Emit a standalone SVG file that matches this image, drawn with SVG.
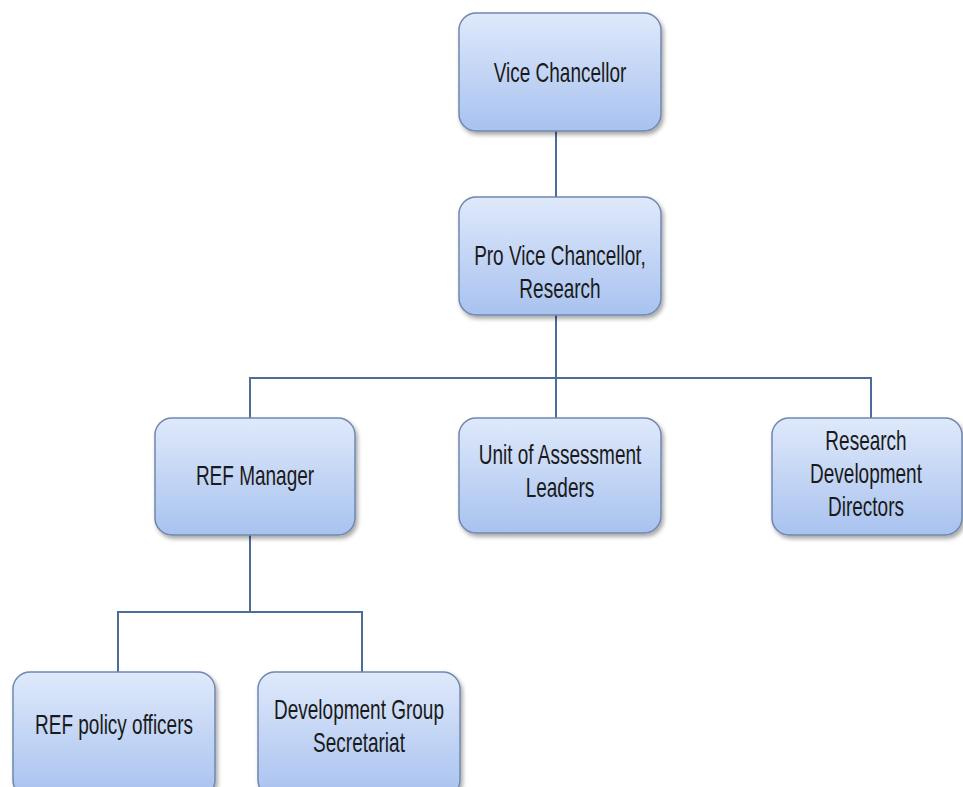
<svg xmlns="http://www.w3.org/2000/svg" width="963" height="787" viewBox="0 0 963 787">
<defs>
<linearGradient id="g" x1="0" y1="0" x2="0" y2="1">
<stop offset="0" stop-color="#dfe9fb"/>
<stop offset="1" stop-color="#a8c2ef"/>
</linearGradient>
<filter id="sh" x="-10%" y="-10%" width="130%" height="130%">
<feDropShadow dx="2" dy="3" stdDeviation="2" flood-color="#000" flood-opacity="0.35"/>
</filter>
<style>
.box{fill:url(#g);stroke:#7088ae;stroke-width:1.5;filter:url(#sh)}
.t{font-family:"Liberation Sans Narrow","Liberation Sans",sans-serif;font-size:19px;fill:#1a1a1a;text-anchor:middle}
.c{fill:none;stroke:#4d6d98;stroke-width:2}
</style>
</defs>
<rect width="963" height="787" fill="#fff"/>
<g id="connectors">
<path class="c" d="M556 131V197"/>
<path class="c" d="M556 315V418"/>
<path class="c" d="M250 418V378H871V418"/>
<path class="c" d="M250 535V612"/>
<path class="c" d="M118 672V612H362V672"/>
</g>
<g id="vc">
<rect class="box" x="459" y="13" width="202" height="118" rx="17"/>
<text class="t" transform="translate(560,82) scale(1,1.45)">Vice Chancellor</text>
</g>
<g id="pvc">
<rect class="box" x="459" y="197" width="202" height="118" rx="17"/>
<text class="t" transform="translate(560,265) scale(1,1.45)">Pro Vice Chancellor,</text>
<text class="t" transform="translate(560,298) scale(1,1.45)">Research</text>
</g>
<g id="refmanager">
<rect class="box" x="155" y="418" width="200" height="117" rx="17"/>
<text class="t" transform="translate(255,485) scale(1,1.45)">REF Manager</text>
</g>
<g id="uoa">
<rect class="box" x="459" y="418" width="202" height="115" rx="17"/>
<text class="t" transform="translate(560,464) scale(1,1.45)">Unit of Assessment</text>
<text class="t" transform="translate(560,497) scale(1,1.45)">Leaders</text>
</g>
<g id="rdd">
<rect class="box" x="772" y="418" width="190" height="117" rx="17"/>
<text class="t" transform="translate(866,450) scale(1,1.45)">Research</text>
<text class="t" transform="translate(866,483) scale(1,1.45)">Development</text>
<text class="t" transform="translate(866,516) scale(1,1.45)">Directors</text>
</g>
<g id="refpolicy">
<rect class="box" x="13" y="672" width="202" height="125" rx="17"/>
<text class="t" transform="translate(114,734) scale(1,1.45)">REF policy officers</text>
</g>
<g id="dgs">
<rect class="box" x="258" y="672" width="202" height="125" rx="17"/>
<text class="t" transform="translate(359,719) scale(1,1.45)">Development Group</text>
<text class="t" transform="translate(359,752) scale(1,1.45)">Secretariat</text>
</g>
</svg>
